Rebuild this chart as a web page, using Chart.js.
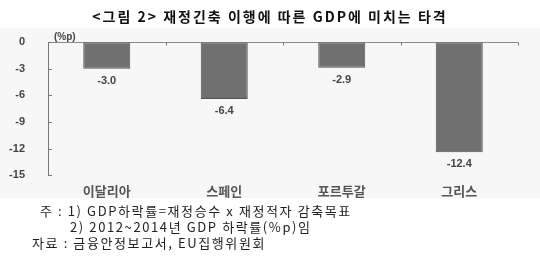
<!DOCTYPE html>
<html>
<head>
<meta charset="utf-8">
<script src="https://cdn.jsdelivr.net/npm/chart.js@4/dist/chart.umd.min.js"></script>
<style>
  body { margin: 0; background: #fff; }
  #wrap { position: relative; width: 540px; height: 259px; overflow: hidden; }
  #band { position: absolute; left: 0; top: 28px; width: 540px; height: 170px; background: #f7f7f7; }
  #chartBox { position: absolute; left: 0; top: 0; width: 540px; height: 205px; }
  #title { position: absolute; left: 0; top: 6px; width: 540px; text-align: center; letter-spacing: 2px;
    font: bold 14px "Noto Sans CJK KR", sans-serif; color: #111; }
  .note { position: absolute; font: 13px/16px "Noto Sans CJK KR", serif; letter-spacing: 1.6px; color: #222; white-space: nowrap; }
</style>
</head>
<body>
<div id="wrap">
  <div id="band"></div>
  <div id="chartBox"><canvas id="gdpChart" width="540" height="205"></canvas></div>
  <div id="title">&lt;그림 2&gt; 재정긴축 이행에 따른 GDP에 미치는 타격</div>
  <div class="note" style="left:40px; top:203px;">주 : 1) GDP하락률=재정승수 x 재정적자 감축목표</div>
  <div class="note" style="left:70px; top:219px;">2) 2012~2014년 GDP 하락률(%p)임</div>
  <div class="note" style="left:32px; top:235px;">자료 : 금융안정보고서, EU집행위원회</div>
</div>
<script>
const countries = ['이달리아', '스페인', '포르투갈', '그리스'];
const gdpDrop = [-3.0, -6.4, -2.9, -12.4];
const yTicks = [0, -3, -6, -9, -12, -15];

// small inward ticks, the "(%p)" unit and the value labels under each bar
const extras = {
  id: 'extras',
  afterDatasetsDraw(chart) {
    const { ctx, chartArea, scales } = chart;
    const x = scales.x, y = scales.y;
    ctx.save();
    ctx.strokeStyle = '#777';
    ctx.lineWidth = 1;
    yTicks.forEach(v => {
      const py = Math.round(y.getPixelForValue(v)) + 0.5;
      ctx.beginPath();
      ctx.moveTo(chartArea.left, py);
      ctx.lineTo(chartArea.left + 4, py);
      ctx.stroke();
    });
    const y0 = Math.round(y.getPixelForValue(0)) + 0.5;
    const step = x.getPixelForValue(1) - x.getPixelForValue(0);
    countries.forEach((c, i) => {
      const px = Math.round(x.getPixelForValue(i) + step / 2) + 0.5;
      ctx.beginPath();
      ctx.moveTo(px, y0);
      ctx.lineTo(px, y0 + 3);
      ctx.stroke();
    });

    ctx.fillStyle = '#444';
    ctx.font = 'bold 10px "Liberation Sans", sans-serif';
    ctx.textAlign = 'left';
    ctx.textBaseline = 'bottom';
    ctx.fillText('(%p)', chartArea.left + 6, y0);

    ctx.font = 'bold 11px "Liberation Sans", sans-serif';
    ctx.textAlign = 'center';
    ctx.textBaseline = 'middle';
    const meta = chart.getDatasetMeta(0);
    meta.data.forEach((bar, i) => {
      ctx.fillText(gdpDrop[i].toFixed(1), bar.x, bar.y + 12);
    });
    ctx.restore();
  }
};

new Chart(document.getElementById('gdpChart'), {
  type: 'bar',
  data: {
    labels: countries,
    datasets: [{
      data: gdpDrop,
      backgroundColor: '#707070',
      borderColor: '#525252',
      borderWidth: 1,
      borderSkipped: false,
      categoryPercentage: 1,
      barPercentage: 0.4
    }]
  },
  options: {
    responsive: false,
    animation: false,
    layout: { padding: { left: 0, right: 22, top: 42, bottom: 0 } },
    plugins: { legend: { display: false }, tooltip: { enabled: false } },
    scales: {
      x: {
        grid: { display: false },
        border: { display: false },
        ticks: { color: '#555', padding: 0, font: { size: 13, weight: 'bold', family: 'Noto Sans CJK KR' } },
        afterFit(s) { s.height = 25; }
      },
      y: {
        min: -15,
        max: 0,
        afterBuildTicks(s) { s.ticks = yTicks.map(v => ({ value: v })); },
        grid: {
          drawTicks: false,
          color: ctx => ctx.tick && ctx.tick.value === 0 ? '#8a8a8a' : 'transparent'
        },
        border: { display: true, color: '#777' },
        ticks: { color: '#444', padding: 23, font: { size: 11, weight: 'bold', family: 'Liberation Sans' } },
        afterFit(s) { s.width = 48; }
      }
    }
  },
  plugins: [extras]
});
</script>
</body>
</html>
